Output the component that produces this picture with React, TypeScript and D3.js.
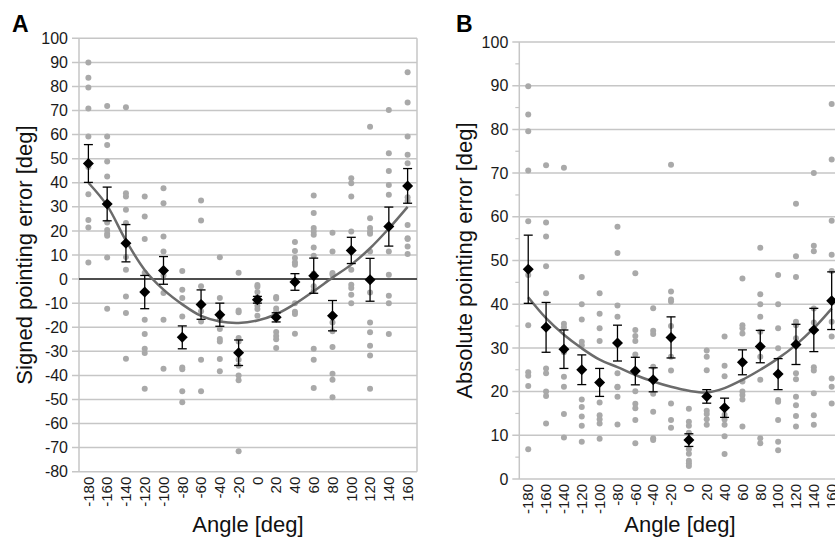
import React from 'react';
import * as d3 from 'd3';

// angle categories shared by both panels
const angles = [-180, -160, -140, -120, -100, -80, -60, -40, -20, 0, 20, 40, 60, 80, 100, 120, 140, 160];

// panel A: signed pointing error
const signedRaw: number[][] = [
  [90, 83.6, 79.6, 70.8, 59.2, 46.5, 35.2, 24.5, 21.4, 6.9],
  [71.9, 59.2, 55.7, 48.8, 42.6, 23.5, 20.4, 18.8, 18, 9, -12.3],
  [71.4, 35.6, 34.3, 28.8, 23.3, 9.2, 3.9, -7.2, -14.1, -33.1],
  [34.3, 26, 16.6, 2.6, -16.9, -22.8, -28.9, -30.7, -45.6],
  [37.7, 31.5, 17.7, 11.5, 1.5, -5.8, -16.9, -37.2],
  [3.4, -4.4, -7.9, -15.5, -36.7, -37.5, -46.6, -51.2],
  [32.6, 24.3, -3, -10, -13.4, -17.6, -33.5, -46.6],
  [9.1, -7.9, -16.9, -20.7, -24.9, -25.9, -33.2, -38.3],
  [2.6, -13, -13.8, -24.5, -25.9, -33.5, -36, -40, -42, -71.5],
  [-2.5, -3.2, -5.4, -7.5, -11.1, -12.4, -15.2],
  [-7.4, -8.1, -12.2, -13.6, -22, -23.6, -25, -28.6],
  [15.4, 11.7, 8.8, 7, 6, -10, -13.6, -14.5, -22.7],
  [34.7, 27.4, 21.2, 19.8, 18.4, 13.1, 9.7, 2.3, -3, -4.7, -28.9, -33.5, -45.2],
  [19.2, 11.5, 2.5, 1.8, -18, -21.7, -28.2, -39.3, -41.8, -49.1],
  [41.9, 39.8, 34.3, 19.8, 3.9, -2.4, -3.7, -6.5, -10],
  [63.3, 25.3, 21.2, 19.8, 18.8, 11.5, -5.6, -18, -22.1, -27.7, -31.7, -45.5],
  [70.2, 52.3, 44.9, 39.1, 35, 11.5, 1.8, -6.9, -10, -22.8],
  [85.9, 73.3, 59.2, 51.6, 48.1, 34, 32.5, 22.5, 17, 16.6, 13.5, 10.4],
];
const signedMean = [48, 31.2, 14.9, -5.4, 3.6, -24.2, -10.6, -14.8, -30.6, -8.6, -15.9, -1.2, 1.4, -15.2, 11.9, -0.3, 21.8, 38.7];
const signedSE = [7.85, 7, 7.75, 6.9, 5.75, 4.75, 6.1, 4.8, 5.3, 1.4, 1.9, 3.45, 7.3, 6.3, 5.45, 8.9, 8.1, 7.2];
const signedFit = [40, 30.5, 16, 3.8, -4.4, -10.5, -15.3, -17.6, -18.2, -17.2, -14.6, -10.3, -5, 0.6, 6, 12.8, 21, 30];
const signedTicks = [-80, -70, -60, -50, -40, -30, -20, -10, 0, 10, 20, 30, 40, 50, 60, 70, 80, 90, 100];

// panel B: absolute pointing error
const absRaw: number[][] = [
  [89.9, 83.4, 79.6, 70.6, 59, 46.7, 35.2, 24.4, 23.6, 21.3, 6.8],
  [71.8, 58.7, 55.5, 48.7, 42.5, 25.3, 24.2, 20, 19, 12.7],
  [71.2, 35.5, 34.7, 29, 23.4, 21.1, 14.9, 9.5],
  [46.2, 40, 36.5, 31.4, 30.6, 18.2, 16.5, 14.3, 12.2, 8.5],
  [42.5, 37.8, 34.5, 31.6, 17.5, 14.6, 13.7, 12.7, 9.2],
  [57.7, 51.7, 39.7, 37.1, 24.2, 21.1, 21, 18.8, 12.5],
  [47.1, 34.1, 32.7, 31.6, 28.5, 20.1, 17.2, 16.2, 13.5, 8.2],
  [39.1, 33.9, 33.2, 25.7, 19.5, 15.4, 9.3, 8.9],
  [71.9, 42.9, 41.1, 40.6, 35, 28, 24.8, 17.3, 13.5, 11.7],
  [16.1, 13.1, 12.2, 10.6, 6.8, 5.8, 4.2, 3.6, 3],
  [29.4, 28, 24.9, 15.6, 14.9, 13.7, 12.4],
  [32.6, 25.9, 23.5, 14.7, 13.6, 12.4, 9.8, 5.7],
  [45.9, 35.2, 34.5, 33.3, 22.3, 20, 19.2, 18.2, 12],
  [52.9, 42.3, 40, 37.1, 33.7, 28, 22.7, 9.3, 8.2],
  [46.7, 40, 34.5, 29.9, 18.1, 17.7, 13.5, 8.5, 6.6],
  [63, 51, 46.2, 36, 35.2, 32.2, 24.2, 22.8, 18.8, 16.9, 14.4, 12],
  [70, 53.4, 52.1, 39, 35.8, 25.6, 24.8, 19.6, 14.6, 12.4],
  [85.8, 73.1, 59.1, 51.3, 47.6, 36, 32.6, 23, 21.1, 17.3],
];
const absMean = [48, 34.7, 29.7, 25, 22.1, 31.1, 24.7, 22.7, 32.4, 8.9, 18.9, 16.3, 26.7, 30.3, 24, 30.8, 34.1, 40.8];
const absSE = [7.8, 5.7, 4.4, 3.4, 3.2, 4.1, 3.15, 2.75, 4.7, 1.45, 1.55, 2.2, 2.85, 3.7, 3.55, 4.6, 4.95, 6.6];
const absFit = [41.6, 36.8, 33, 29.9, 27.3, 25.6, 23.8, 22.3, 21.1, 20.2, 19.8, 20.8, 22.7, 25, 27.6, 30.7, 34.5, 39];
const absTicks = [0, 10, 20, 30, 40, 50, 60, 70, 80, 90, 100];
const absMinor = [5, 15, 25, 35, 45, 55, 65, 75, 85, 95];

const FONT = 'Liberation Sans, Arial, Helvetica, sans-serif';
const GRID = '#c6c6c6';
const DOT = '#a9a9a9';

type PanelProps = {
  letter: string;
  letterX: number;
  yTitle: string;
  x0: number;
  x1: number;
  y0: number;
  y1: number;
  domain: [number, number];
  ticks: number[];
  minor?: number[];
  raw: number[][];
  mean: number[];
  se: number[];
  fit: number[];
  zeroLine?: boolean;
  yTitleX: number;
  rightBorder?: boolean;
};

const diamond = 'M0,-5.5L5.5,0L0,5.5L-5.5,0Z';

function Panel(p: PanelProps) {
  const x = d3.scaleBand<number>().domain(angles).range([p.x0, p.x1]);
  const y = d3.scaleLinear().domain(p.domain).range([p.y1, p.y0]);
  const cx = (a: number) => (x(a) as number) + x.bandwidth() / 2;
  const line = d3
    .line<number>()
    .x((_, i) => cx(angles[i]))
    .y((d) => y(d))
    .curve(d3.curveCatmullRom);
  const midY = (y(p.domain[0]) + y(p.domain[1])) / 2;
  const midX = (p.x0 + p.x1) / 2;
  return (
    <g fontFamily={FONT}>
      <text x={p.letterX} y={32} fontSize={23} fontWeight="bold" fill="#000">{p.letter}</text>
      {p.ticks.map((t) => (
        <g key={t}>
          <line x1={p.x0 - 7} x2={p.x1} y1={y(t)} y2={y(t)} stroke={GRID} strokeWidth={1.5} />
          <text x={p.x0 - 11} y={y(t)} dy="0.35em" textAnchor="end" fontSize={16} fill="#1a1a1a">{t}</text>
        </g>
      ))}
      {(p.minor || []).map((t) => (
        <line key={t} x1={p.x0 - 4} x2={p.x0} y1={y(t)} y2={y(t)} stroke={GRID} strokeWidth={1.2} />
      ))}
      <line x1={p.x0} x2={p.x0} y1={y(p.domain[1])} y2={y(p.domain[0])} stroke={GRID} strokeWidth={1.5} />
      {p.rightBorder && (
        <line x1={p.x1} x2={p.x1} y1={y(p.domain[1])} y2={y(p.domain[0])} stroke={GRID} strokeWidth={1.5} />
      )}
      {p.zeroLine && <line x1={p.x0} x2={p.x1} y1={y(0)} y2={y(0)} stroke="#222" strokeWidth={1.5} />}
      {p.raw.map((col, i) =>
        col.map((v, j) => <circle key={`${i}-${j}`} cx={cx(angles[i])} cy={y(v)} r={3} fill={DOT} />)
      )}
      <path d={line(p.fit) || ''} fill="none" stroke="#6b6b6b" strokeWidth={2.5} />
      {p.mean.map((m, i) => {
        const c = cx(angles[i]);
        const top = y(m + p.se[i]);
        const bot = y(m - p.se[i]);
        return (
          <g key={i} stroke="#000" strokeWidth={1.3}>
            <line x1={c} x2={c} y1={top} y2={bot} />
            <line x1={c - 4.5} x2={c + 4.5} y1={top} y2={top} />
            <line x1={c - 4.5} x2={c + 4.5} y1={bot} y2={bot} />
            <path d={diamond} transform={`translate(${c},${y(m)})`} fill="#000" stroke="none" />
          </g>
        );
      })}
      {angles.map((a) => (
        <text
          key={a}
          transform={`translate(${cx(a)},${y(p.domain[0]) + 5}) rotate(-90)`}
          dy="0.35em"
          textAnchor="end"
          fontSize={15}
          fill="#1a1a1a"
        >
          {a}
        </text>
      ))}
      <text
        transform={`translate(${p.yTitleX},${midY}) rotate(-90)`}
        textAnchor="middle"
        fontSize={22}
        fill="#111"
      >
        {p.yTitle}
      </text>
      <text x={midX} y={532} textAnchor="middle" fontSize={22} fill="#111">Angle [deg]</text>
    </g>
  );
}

export default function App() {
  return (
    <div style={{ position: 'absolute', left: 0, top: 0, width: 835, height: 543, overflow: 'hidden', background: '#fff' }}>
      <svg width={835} height={543}>
        <rect width={835} height={543} fill="#fff" />
        <Panel
          letter="A"
          letterX={12}
          yTitle="Signed pointing error [deg]"
          yTitleX={32}
          x0={79}
          x1={417}
          y0={38.3}
          y1={471.7}
          domain={[-80, 100]}
          ticks={signedTicks}
          raw={signedRaw}
          mean={signedMean}
          se={signedSE}
          fit={signedFit}
          zeroLine
          rightBorder
        />
        <Panel
          letter="B"
          letterX={456}
          yTitle="Absolute pointing error [deg]"
          yTitleX={472}
          x0={519.3}
          x1={840.6}
          y0={42}
          y1={479}
          domain={[0, 100]}
          ticks={absTicks}
          minor={absMinor}
          raw={absRaw}
          mean={absMean}
          se={absSE}
          fit={absFit}
        />
      </svg>
    </div>
  );
}
